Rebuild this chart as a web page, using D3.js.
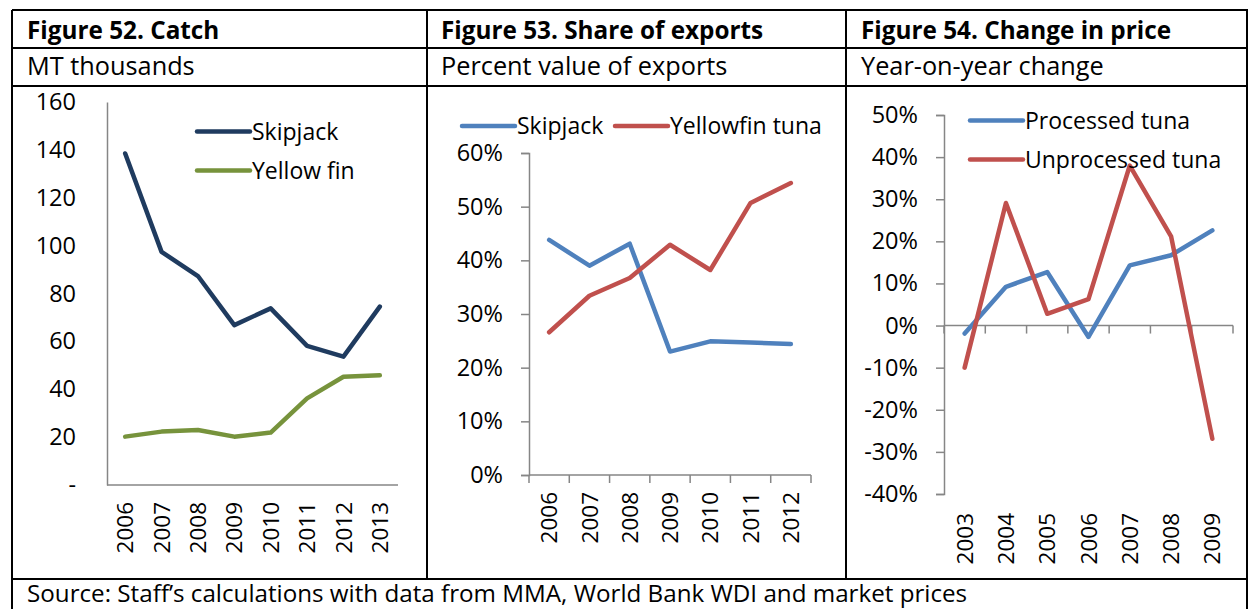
<!DOCTYPE html>
<html>
<head>
<meta charset="utf-8">
<script src="https://cdn.jsdelivr.net/npm/d3@7"></script>
<style>
  html, body { margin: 0; padding: 0; background: #fff; }
  svg { display: block; font-family: "Open Sans", "Noto Sans", sans-serif; }
</style>
</head>
<body>
<svg id="chart" width="1248" height="609"></svg>
<script>
// ---- Figure 52: catch (MT thousands) ----
const catchYears = ["2006", "2007", "2008", "2009", "2010", "2011", "2012", "2013"];
const catchSkipjack = [138.5, 97.4, 87.3, 66.8, 73.8, 58.1, 53.6, 74.5];
const catchYellowfin = [20.2, 22.3, 23.0, 20.2, 21.9, 36.2, 45.2, 45.8];
const catchTicks = [0, 20, 40, 60, 80, 100, 120, 140, 160];

// ---- Figure 53: share of exports (%) ----
const shareYears = ["2006", "2007", "2008", "2009", "2010", "2011", "2012"];
const shareSkipjack = [43.8, 39.0, 43.1, 23.0, 24.9, 24.7, 24.4];
const shareYellowfin = [26.6, 33.4, 36.7, 42.9, 38.2, 50.7, 54.4];
const shareTicks = [0, 10, 20, 30, 40, 50, 60];

// ---- Figure 54: change in price (year-on-year %) ----
const priceYears = ["2003", "2004", "2005", "2006", "2007", "2008", "2009"];
const priceProcessed = [-1.9, 9.2, 12.7, -2.7, 14.3, 16.7, 22.6];
const priceUnprocessed = [-10.0, 29.1, 2.8, 6.3, 38.0, 21.2, -26.9];
const priceTicks = [-40, -30, -20, -10, 0, 10, 20, 30, 40, 50];

const titles = ["Figure 52. Catch", "Figure 53. Share of exports", "Figure 54. Change in price"];
const subtitles = ["MT thousands", "Percent value of exports", "Year-on-year change"];
const sourceNote = "Source: Staff\u2019s calculations with data from MMA, World Bank WDI and market prices";

const svg = d3.select("#chart");
svg.append("rect").attr("width", 1248).attr("height", 609).attr("fill", "#fff");

const AXIS = "#868686";
const FONT_YTICK = 23.5;
const FONT_XTICK = 22.5;
const FONT_LEGEND = 23;

// ---- table frame ----
const frame = svg.append("g").attr("stroke", "#000").attr("stroke-width", 2);
[[12, 10, 1248, 10], [12, 48, 1248, 48], [12, 86, 1248, 86], [12, 579, 1248, 579],
 [12, 10, 12, 609], [427, 10, 427, 579], [846, 10, 846, 579], [1247, 10, 1247, 609]]
  .forEach(([x1, y1, x2, y2]) => frame.append("line")
    .attr("x1", x1).attr("y1", y1).attr("x2", x2).attr("y2", y2));

const colX = [27, 441, 861];
titles.forEach((t, i) => svg.append("text").attr("x", colX[i]).attr("y", 39)
  .attr("font-size", 24.3).attr("font-weight", 700).attr("fill", "#000").text(t));
subtitles.forEach((t, i) => svg.append("text").attr("x", colX[i]).attr("y", 75)
  .attr("font-size", 25.3).attr("fill", "#000").text(t));
svg.append("text").attr("x", 27).attr("y", 602).attr("font-size", 24.2).attr("fill", "#000").text(sourceNote);

// ---- generic line panel ----
function panel(o) {
  const g = svg.append("g");
  const x = d3.scaleBand().domain(o.cats).range([o.x0, o.x1]).paddingInner(0).paddingOuter(0);
  const y = d3.scaleLinear().domain(o.domain).range([o.yBottom, o.yTop]);

  // y axis
  const ya = d3.axisLeft(y).tickValues(o.ticks).tickSize(o.tickLen).tickSizeOuter(o.tickLen)
    .tickPadding(o.labelPad).tickFormat(o.fmt);
  const yg = g.append("g").attr("transform", `translate(${o.x0},0)`).call(ya);
  yg.selectAll("path,line").attr("stroke", AXIS).attr("stroke-width", 1.5);
  yg.selectAll("text").attr("font-size", FONT_YTICK).attr("fill", "#000")
    .attr("font-family", "'Open Sans', 'Noto Sans', sans-serif");

  // x axis line at the baseline value
  const y0 = y(o.baseline);
  g.append("line").attr("x1", o.x0).attr("x2", o.x1).attr("y1", y0).attr("y2", y0)
    .attr("stroke", AXIS).attr("stroke-width", 1.5);
  if (o.xTicks) {
    const bounds = o.cats.map(c => x(c)).concat([x(o.cats[o.cats.length - 1]) + x.bandwidth()]);
    g.selectAll(".xt").data(bounds).join("line")
      .attr("x1", d => d).attr("x2", d => d).attr("y1", y0).attr("y2", y0 + 8)
      .attr("stroke", AXIS).attr("stroke-width", 1.5);
  }
  // category labels (rotated)
  g.selectAll(".xl").data(o.cats).join("text")
    .attr("transform", d => `translate(${x(d) + x.bandwidth() / 2},${o.labelTop}) rotate(-90)`)
    .attr("text-anchor", "end").attr("dy", "0.36em")
    .attr("font-size", FONT_XTICK).attr("fill", "#000").text(d => d);

  // series
  const line = d3.line().x((d, i) => x(o.cats[i]) + x.bandwidth() / 2).y(d => y(d));
  o.series.forEach(s => {
    g.append("path").datum(s.values).attr("d", line).attr("fill", "none")
      .attr("stroke", s.color).attr("stroke-width", 4.5)
      .attr("stroke-linejoin", "round").attr("stroke-linecap", "round");
  });
  // legend
  o.legend.forEach((l, i) => {
    const s = o.series[i];
    g.append("line").attr("x1", l[0]).attr("x2", l[0] + 53).attr("y1", l[1]).attr("y2", l[1])
      .attr("stroke", s.color).attr("stroke-width", 4.5).attr("stroke-linecap", "round");
    g.append("text").attr("x", l[0] + 55).attr("y", l[1]).attr("dy", "0.35em")
      .attr("font-size", FONT_LEGEND).attr("fill", "#000").text(s.name);
  });
}

panel({
  cats: catchYears, x0: 107, x1: 398, yTop: 102, yBottom: 485, domain: [0, 160],
  ticks: catchTicks, tickLen: 0, labelPad: 31, baseline: 0, xTicks: false, labelTop: 502,
  fmt: d => d === 0 ? "-" : d,
  series: [
    { name: "Skipjack", values: catchSkipjack, color: "#1F3B5F" },
    { name: "Yellow fin", values: catchYellowfin, color: "#77933C" }
  ],
  legend: [[197, 131.5], [197, 170.5]]
});

panel({
  cats: shareYears, x0: 529, x1: 811, yTop: 153, yBottom: 475, domain: [0, 60],
  ticks: shareTicks, tickLen: 8, labelPad: 18, baseline: 0, xTicks: true, labelTop: 492,
  fmt: d => d + "%",
  series: [
    { name: "Skipjack", values: shareSkipjack, color: "#4F81BD" },
    { name: "Yellowfin tuna", values: shareYellowfin, color: "#C0504D" }
  ],
  legend: [[462, 126], [615, 126]]
});

panel({
  cats: priceYears, x0: 944, x1: 1233, yTop: 115, yBottom: 494, domain: [-40, 50],
  ticks: priceTicks, tickLen: 8, labelPad: 18, baseline: 0, xTicks: true, labelTop: 513,
  fmt: d => d + "%",
  series: [
    { name: "Processed tuna", values: priceProcessed, color: "#4F81BD" },
    { name: "Unprocessed tuna", values: priceUnprocessed, color: "#C0504D" }
  ],
  legend: [[970, 120.5], [970, 159.5]]
});
</script>
</body>
</html>
